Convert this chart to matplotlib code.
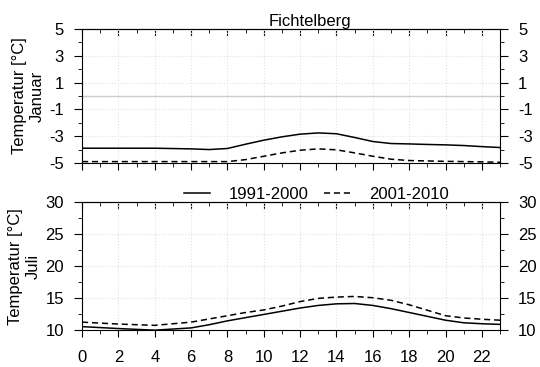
import matplotlib.pyplot as plt
from matplotlib.ticker import MultipleLocator

plt.rcParams['font.family'] = ['Liberation Sans', 'DejaVu Sans']
plt.rcParams['axes.unicode_minus'] = False

# hours of the day
hours = [0, 2, 4, 6, 7, 8, 9, 10, 11, 12, 13, 14, 15, 16, 17, 18, 19, 20, 21, 22, 23]

# Januar mean temperature by hour
jan_9100 = [-3.9, -3.9, -3.9, -3.95, -4.0, -3.92, -3.6, -3.3, -3.05, -2.85, -2.76, -2.82,
            -3.1, -3.4, -3.55, -3.58, -3.62, -3.65, -3.7, -3.78, -3.85]
jan_0110 = [-4.9, -4.9, -4.9, -4.9, -4.9, -4.9, -4.75, -4.5, -4.25, -4.05, -3.95, -4.02,
            -4.25, -4.5, -4.72, -4.82, -4.85, -4.88, -4.9, -4.92, -4.95]

# Juli mean temperature by hour
jul_9100 = [10.6, 10.3, 10.05, 10.4, 10.9, 11.5, 12.0, 12.5, 13.0, 13.5, 13.9, 14.15,
            14.2, 13.9, 13.4, 12.8, 12.2, 11.6, 11.2, 11.05, 10.95]
jul_0110 = [11.3, 11.0, 10.8, 11.3, 11.8, 12.3, 12.8, 13.2, 13.8, 14.5, 15.0, 15.2,
            15.3, 15.1, 14.7, 14.0, 13.15, 12.3, 11.95, 11.75, 11.6]

fig = plt.figure(figsize=(5.4, 3.67), dpi=100)
ax1 = fig.add_axes([0.152, 0.556, 0.774, 0.365])
ax2 = fig.add_axes([0.152, 0.0995, 0.774, 0.350])

FS = 12


def style_axis(ax, ylim, ystep, label):
    ax.set_xlim(0, 23)
    ax.set_ylim(*ylim)
    ax.xaxis.set_major_locator(MultipleLocator(2))
    ax.xaxis.set_minor_locator(MultipleLocator(1))
    ax.yaxis.set_major_locator(MultipleLocator(ystep))
    ax.yaxis.set_minor_locator(MultipleLocator(ystep / 2))
    ax.grid(True, which='major', color='#e2e2e2', linestyle=':', linewidth=0.8)
    ax.tick_params(axis='x', which='both', direction='out', top=False, labelsize=FS)
    ax.tick_params(axis='x', which='major', length=5)
    ax.tick_params(axis='x', which='minor', length=3)
    ax.tick_params(axis='y', which='both', direction='out', left=True, right=True,
                   labelleft=True, labelright=True, labelsize=FS, pad=7)
    ax.tick_params(axis='y', which='major', length=6)
    ax.tick_params(axis='y', which='minor', length=3)
    top = ax.secondary_xaxis('top')
    top.xaxis.set_major_locator(MultipleLocator(2))
    top.xaxis.set_minor_locator(MultipleLocator(1))
    top.tick_params(which='both', direction='in', labeltop=False)
    top.tick_params(which='major', length=5)
    top.tick_params(which='minor', length=3)
    ax.set_ylabel(label, fontsize=FS, multialignment='center', labelpad=3, linespacing=1.3)


ax1.axhline(0, color='#cccccc', linewidth=1)
ax1.plot(hours, jan_9100, color='black', linewidth=1.1, linestyle='-', label='1991-2000')
ax1.plot(hours, jan_0110, color='black', linewidth=1.1, linestyle=(0, (4, 2.5)), label='2001-2010')
style_axis(ax1, (-5, 5), 2, 'Temperatur [°C]\nJanuar')
ax1.set_yticks([-5, -3, -1, 1, 3, 5])
ax1.yaxis.set_minor_locator(MultipleLocator(1))
ax1.tick_params(axis='x', labelbottom=False)
ax1.set_title('Fichtelberg', fontsize=FS, x=0.545, pad=1)

ax2.plot(hours, jul_9100, color='black', linewidth=1.1, linestyle='-', label='1991-2000')
ax2.plot(hours, jul_0110, color='black', linewidth=1.1, linestyle=(0, (4, 2.5)), label='2001-2010')
style_axis(ax2, (10, 30), 5, 'Temperatur [°C]\nJuli')
ax2.xaxis.set_tick_params(pad=9)

ax2.legend(loc='lower center', bbox_to_anchor=(0.56, 0.985), ncol=2, frameon=False,
           fontsize=FS, handlelength=1.6, handletextpad=1.1, columnspacing=0.9,
           borderaxespad=0, borderpad=0.1)

fig.savefig('out.png', dpi=100)
